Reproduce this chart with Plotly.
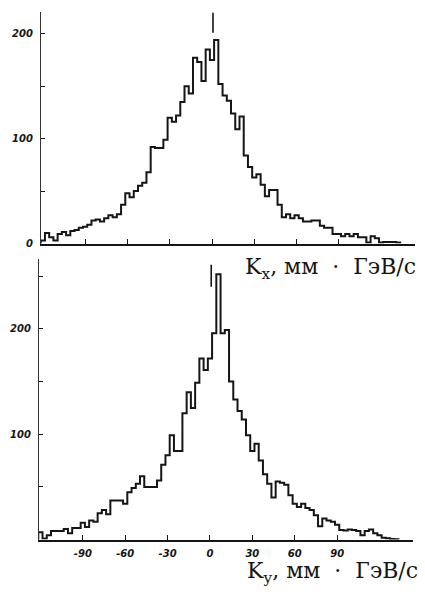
import plotly.graph_objects as go

# ---- data ----
bin_width = 3
bin_centers = [-120, -117, -114, -111, -108, -105, -102, -99, -96, -93, -90, -87, -84, -81, -78,
               -75, -72, -69, -66, -63, -60, -57, -54, -51, -48, -45, -42, -39, -36, -33, -30,
               -27, -24, -21, -18, -15, -12, -9, -6, -3, 0, 3, 6, 9, 12, 15, 18, 21, 24, 27,
               30, 33, 36, 39, 42, 45, 48, 51, 54, 57, 60, 63, 66, 69, 72, 75, 78, 81, 84, 87,
               90, 93, 96, 99, 102, 105, 108, 111, 114, 117, 120, 123, 126, 129, 132]

kx_counts = [3, 10, 6, 3, 9, 11, 8, 12, 13, 15, 16, 18, 22, 23, 21,
             24, 27, 25, 28, 37, 48, 44, 50, 55, 58, 68, 92, 91, 91, 99, 120,
             116, 122, 135, 150, 143, 177, 173, 155, 185, 175, 194, 152, 141, 136, 124, 109, 121, 84, 73,
             63, 66, 56, 45, 51, 51, 37, 25, 28, 24, 27, 24, 21, 21, 22, 22, 17, 15, 15, 9,
             9, 7, 9, 7, 9, 6, 6, 1, 7, 5, 1, 1.5, 1.5, 1.5, 1]

ky_counts = [7, 1, 4, 8, 8, 8, 10, 6, 11, 11, 16, 12, 18, 17, 25,
             28, 24, 37, 37, 37, 34, 45, 49, 53, 60, 50, 50, 50, 56, 71, 80,
             99, 84, 84, 120, 140, 125, 149, 172, 161, 172, 196, 252, 196, 199, 150, 133, 122, 114, 99,
             84, 91, 75, 62, 53, 40, 55, 54, 52, 42, 34, 31, 34, 30, 28, 23, 12.5, 20, 18, 17,
             14, 9, 8.5, 9.5, 9, 8, 4, 8, 9.5, 6, 4, 1.6, 1.2, 0.5, 0.3]

x_tick_vals = [-90, -60, -30, 0, 30, 60, 90]
x_tick_text = ["-90", "-60", "-30", "0", "30", "60", "90"]
kx_y_ticks = [0, 100, 200]
kx_y_text = ["0", "100", "200"]
kx_y_minor = [50, 150]
ky_y_ticks = [100, 200]
ky_y_text = ["100", "200"]
ky_y_minor = [50, 150, 250]

kx_mark_x = [0.7, 0.7]
kx_mark_y = [201, 220]
ky_mark_x = [0.9, 0.9]
ky_mark_y = [240, 261]

kx_title = "K<sub>x</sub>,&nbsp;мм&nbsp;&nbsp;·&nbsp;&nbsp;ГэВ/с"
ky_title = "K<sub>y</sub>,&nbsp;мм&nbsp;&nbsp;·&nbsp;&nbsp;ГэВ/с"


def step_xy(centers, counts, width):
    edges = [c - width / 2 for c in centers] + [centers[-1] + width / 2]
    xs = [edges[0]] + edges
    ys = [0] + list(counts) + [0]
    return xs, ys


W, H = 425, 598
ink = "#151515"

fig = go.Figure()
x1, y1 = step_xy(bin_centers, kx_counts, bin_width)
fig.add_trace(go.Scatter(x=x1, y=y1, mode="lines", line=dict(shape="hv", color=ink, width=2),
                         xaxis="x", yaxis="y", showlegend=False, hoverinfo="skip"))
x2, y2 = step_xy(bin_centers, ky_counts, bin_width)
fig.add_trace(go.Scatter(x=x2, y=y2, mode="lines", line=dict(shape="hv", color=ink, width=2),
                         xaxis="x2", yaxis="y2", showlegend=False, hoverinfo="skip"))
fig.add_trace(go.Scatter(x=kx_mark_x, y=kx_mark_y, mode="lines", line=dict(color=ink, width=1.6),
                         xaxis="x", yaxis="y", showlegend=False, hoverinfo="skip"))
fig.add_trace(go.Scatter(x=ky_mark_x, y=ky_mark_y, mode="lines", line=dict(color=ink, width=1.6),
                         xaxis="x2", yaxis="y2", showlegend=False, hoverinfo="skip"))

tickfont = dict(family="DejaVu Sans, Liberation Sans, sans-serif",
                size=10, color=ink, weight="bold", style="italic")

common_x = dict(showline=True, linecolor=ink, linewidth=2, ticks="inside", ticklen=5,
                tickwidth=1.3, tickcolor=ink, tickvals=x_tick_vals, showgrid=False,
                zeroline=False, tickfont=tickfont, ticklabelstandoff=3)
common_y = dict(showline=True, linecolor="#333", linewidth=1.2, ticks="inside", ticklen=4,
                tickwidth=1.2, tickcolor=ink, showgrid=False, zeroline=False, tickfont=tickfont,
                ticklabelstandoff=5)

title_font = dict(family="DejaVu Serif, Liberation Serif, serif", size=22, color=ink)

fig.update_layout(
    width=W, height=H,
    margin=dict(l=0, r=0, t=0, b=0),
    paper_bgcolor="white", plot_bgcolor="white",
    xaxis=dict(domain=[41 / W, 415 / W], range=[-121.3, 144], anchor="y",
               showticklabels=False, **common_x),
    yaxis=dict(domain=[1 - 246 / H, 1 - 12 / H], range=[0, 220.8], anchor="x",
               tickvals=kx_y_ticks, ticktext=kx_y_text,
               minor=dict(tickvals=kx_y_minor, ticks="inside", ticklen=4, tickwidth=1.2,
                          tickcolor=ink, showgrid=False),
               **common_y),
    xaxis2=dict(domain=[39 / W, 413 / W], range=[-121, 143.7], anchor="y2",
                ticktext=x_tick_text, showticklabels=True, **common_x),
    yaxis2=dict(domain=[1 - 545 / H, 1 - 262 / H], range=[0, 266.1], anchor="x2",
                tickvals=ky_y_ticks, ticktext=ky_y_text,
                minor=dict(tickvals=ky_y_minor, ticks="inside", ticklen=4, tickwidth=1.2,
                           tickcolor=ink, showgrid=False),
                **common_y),
    annotations=[
        dict(text=kx_title, xref="paper", yref="paper", x=418 / W, y=1 - 271 / H,
             xanchor="right", yanchor="middle", showarrow=False, font=title_font),
        dict(text=ky_title, xref="paper", yref="paper", x=420 / W, y=1 - 578 / H,
             xanchor="right", yanchor="middle", showarrow=False, font=title_font),
    ],
)

fig.write_html(
    "out.html",
    config={"displayModeBar": False},
    post_script="document.body.style.margin='0';document.body.style.padding='0';"
                "document.body.style.overflow='hidden';",
)
